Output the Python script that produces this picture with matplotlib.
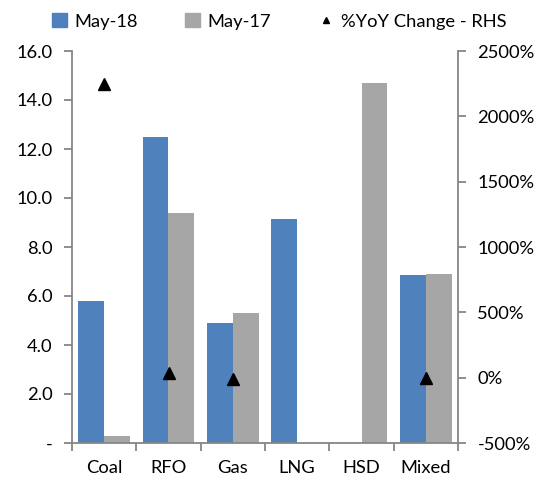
import matplotlib
matplotlib.use("Agg")
import matplotlib.pyplot as plt
import numpy as np
from matplotlib.lines import Line2D
from matplotlib.patches import Patch
from matplotlib.ticker import FuncFormatter, FixedLocator

categories = ["Coal", "RFO", "Gas", "LNG", "HSD", "Mixed"]
may18 = [5.8, 12.5, 4.9, 9.15, 0.0, 6.85]
may17 = [0.3, 9.4, 5.3, 0.0, 14.7, 6.9]
yoy = [2250, 33, -8, np.nan, np.nan, -1]

plt.rcParams['font.family'] = ['Lato', 'DejaVu Sans']
BLUE = "#4F81BD"
GRAY = "#A6A6A6"
AX = "#868686"
FS = 13.2

fig = plt.figure(figsize=(5.42, 4.78), dpi=100)
ax = fig.add_axes([72/542, 1-443/478, (458-72)/542, (443-51)/478])
x = np.arange(len(categories))
w = 0.4
ax.bar(x - w/2, may18, width=w, color=BLUE, zorder=2)
ax.bar(x + w/2, may17, width=w, color=GRAY, zorder=2)
ax.set_xlim(-0.5, len(categories) - 0.5)
ax.set_ylim(0, 16)
ax.set_yticks(np.arange(0, 16.1, 2))
ax.yaxis.set_major_formatter(FuncFormatter(lambda v, p: "-" if abs(v) < 1e-9 else f"{v:.1f}"))
ax.xaxis.set_major_locator(FixedLocator(np.arange(-0.5, len(categories), 1)))
ax.xaxis.set_major_formatter(FuncFormatter(lambda v, p: ""))
ax.set_xticks(x, minor=True)
ax.set_xticklabels(categories, minor=True)
ax.tick_params(axis='x', which='minor', length=0, pad=12, labelsize=FS)
ax.tick_params(axis='x', which='major', length=6, color=AX, width=1.3)
ax.tick_params(axis='y', length=6, color=AX, width=1.3, labelsize=FS, pad=8)
for s in ['top', 'right']:
    ax.spines[s].set_visible(False)
for s in ['left', 'bottom']:
    ax.spines[s].set_color(AX)
    ax.spines[s].set_linewidth(1.3)

ax2 = ax.twinx()
ax2.set_ylim(-500, 2500)
ax2.set_yticks(np.arange(-500, 2501, 500))
ax2.yaxis.set_major_formatter(FuncFormatter(lambda v, p: f"{v:.0f}%"))
ax2.plot(x, yoy, linestyle='none', marker='^', color='black', markersize=8, zorder=3)
ax2.tick_params(axis='y', length=6, color=AX, width=1.3, labelsize=FS, pad=8)
for s in ['top', 'left', 'bottom']:
    ax2.spines[s].set_visible(False)
ax2.spines['right'].set_color(AX)
ax2.spines['right'].set_linewidth(1.3)

handles = [Patch(color=BLUE), Patch(color=GRAY),
           Line2D([], [], linestyle='none', marker='^', color='black', markersize=5)]
labels = ["May-18", "May-17", "%YoY Change - RHS"]
fig.legend(handles, labels, loc='center', bbox_to_anchor=(0.515, 0.955), ncol=3,
           frameon=False, fontsize=FS, handlelength=0.8, handleheight=0.8,
           handletextpad=0.4, columnspacing=2.6)

fig.savefig("out.png", dpi=100)
